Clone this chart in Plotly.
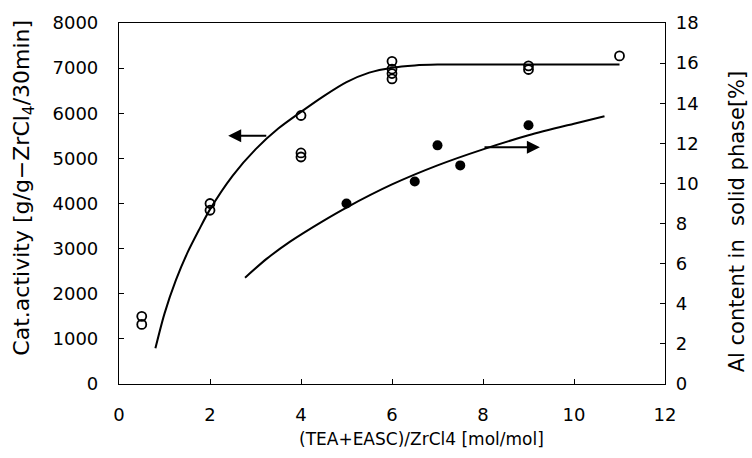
import plotly.graph_objects as go

# Open circles: catalyst activity (left axis)
act_x = [0.5, 0.5, 2, 2, 4, 4, 4, 6, 6, 6, 6, 9, 9, 11]
act_y = [1500, 1320, 4000, 3850, 5950, 5120, 5030, 7150, 6980, 6880, 6760, 7050, 6970, 7270]

# Fitted curve for activity
act_fit_x = [0.8, 1.0, 1.25, 1.5, 1.75, 2.0, 2.5, 3.0, 3.5, 4.0, 4.5, 5.0, 5.5, 6.0, 6.5, 7.0, 9.0, 11.0]
act_fit_y = [790, 1560, 2300, 2900, 3400, 3870, 4620, 5200, 5660, 6030, 6380, 6690, 6900, 7010, 7060, 7078, 7080, 7080]

# Filled circles: Al content (right axis)
al_x = [5, 6.5, 7, 7.5, 9]
al_y = [9.0, 10.1, 11.9, 10.9, 12.9]

al_fit_x = [2.77, 3.25, 3.76, 4.5, 5.0, 6.0, 7.0, 8.0, 9.0, 10.0, 10.67]
al_fit_y = [5.3, 6.25, 7.1, 8.15, 8.8, 9.95, 10.9, 11.7, 12.4, 12.98, 13.35]

x_ticks = [0, 2, 4, 6, 8, 10, 12]
y_ticks = [0, 1000, 2000, 3000, 4000, 5000, 6000, 7000, 8000]
y2_ticks = [0, 2, 4, 6, 8, 10, 12, 14, 16, 18]

FONT = "DejaVu Sans, Arial, sans-serif"

fig = go.Figure()
fig.add_trace(go.Scatter(x=act_fit_x, y=act_fit_y, mode="lines",
                         line=dict(color="black", width=2, shape="spline", smoothing=0.8),
                         showlegend=False, hoverinfo="skip"))
fig.add_trace(go.Scatter(x=act_x, y=act_y, mode="markers",
                         marker=dict(symbol="circle-open", size=9, color="black",
                                     line=dict(width=1.8, color="black")),
                         showlegend=False))
fig.add_trace(go.Scatter(x=al_fit_x, y=al_fit_y, mode="lines", yaxis="y2",
                         line=dict(color="black", width=2, shape="spline", smoothing=0.8),
                         showlegend=False, hoverinfo="skip"))
fig.add_trace(go.Scatter(x=al_x, y=al_y, mode="markers", yaxis="y2",
                         marker=dict(symbol="circle", size=10, color="black"),
                         showlegend=False))

axis_common = dict(showgrid=False, zeroline=False, showline=True, linecolor="black",
                   linewidth=1.2, ticks="inside", ticklen=5, tickcolor="black",
                   tickfont=dict(family=FONT, size=18, color="black"))

fig.update_layout(
    width=752, height=458,
    margin=dict(l=119, r=87, t=20, b=74),
    paper_bgcolor="white", plot_bgcolor="white",
    xaxis=dict(range=[0, 12], tickvals=x_ticks, mirror=True, ticklabelstandoff=14,
               **axis_common),
    yaxis=dict(range=[0, 8000], tickvals=y_ticks, ticklabelstandoff=16, **axis_common),
    yaxis2=dict(range=[0, 18], tickvals=y2_ticks, overlaying="y", side="right",
                ticklabelstandoff=6, **axis_common),
    annotations=[
        dict(text="(TEA+EASC)/ZrCl4 [mol/mol]", xref="paper", yref="paper",
             x=(421-119)/546, y=-(439-384)/364, xanchor="center", yanchor="middle",
             showarrow=False, font=dict(family=FONT, size=17, color="black")),
        dict(text="Cat.activity [g/g\u2212ZrCl<sub>4</sub>/30min]", xref="paper", yref="paper",
             x=-(119-24)/546, y=(384-186)/364, xanchor="center", yanchor="middle",
             textangle=-90, showarrow=False, font=dict(family=FONT, size=22, color="black")),
        dict(text="Al content in  solid phase[%]", xref="paper", yref="paper",
             x=1 + (737-665)/546, y=(384-220)/364, xanchor="center", yanchor="middle",
             textangle=-90, showarrow=False, font=dict(family=FONT, size=21, color="black")),
        dict(x=2.4, y=5500, ax=3.27, ay=5500, xref="x", yref="y", axref="x", ayref="y",
             showarrow=True, arrowhead=2, arrowsize=1.3, arrowwidth=2, arrowcolor="black", text=""),
        dict(x=9.25, y=11.8, ax=8.0, ay=11.8, xref="x", yref="y2", axref="x", ayref="y2",
             showarrow=True, arrowhead=2, arrowsize=1.3, arrowwidth=2, arrowcolor="black", text=""),
    ],
)

fig.write_html("out.html", config={"displayModeBar": False},
               post_script="document.body.style.margin='0';document.body.style.overflow='hidden';")
